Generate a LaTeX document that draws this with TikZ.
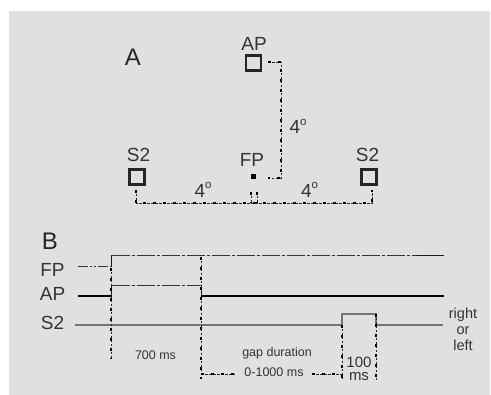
\documentclass[tikz,border=0pt]{standalone}
\usepackage{fontspec}
\setmainfont{Liberation Sans}
\begin{document}
\begin{tikzpicture}[x=1pt,y=-1pt,
  txt/.style={text=black!80, inner sep=0pt, font=\fontsize{19}{20}\selectfont},
  big/.style={text=black!85, inner sep=0pt, font=\fontsize{24}{26}\selectfont},
  small/.style={text=black!80, inner sep=0pt, font=\fontsize{12.5}{13}\selectfont},
  mid/.style={text=black!80, inner sep=0pt, font=\fontsize{15}{14}\selectfont},
  sq/.style={draw=black!85, line width=2.2pt, minimum size=15pt, inner sep=0pt},
  fixdot/.style={fill=black, minimum size=5pt, inner sep=0pt},
  dotconn/.style={draw=black!85, line width=0.6pt, dash pattern=on 2.5pt off 1.5pt,
     postaction={draw=black, line width=2.7pt, dash pattern=on 2.7pt off 7.3pt}},
  trace/.style={draw=black!90, line width=0.6pt},
  dashtrace/.style={draw=black!80, line width=0.6pt, dash pattern=on 18pt off 2pt on 3pt off 2pt},
  pretrace/.style={draw=black!80, line width=0.6pt, dash pattern=on 10pt off 2pt on 2pt off 2pt on 2pt off 2pt},
  aptrace/.style={draw=black, line width=1.3pt},
  s2trace/.style={draw=black!55, line width=1.2pt}
]
\useasboundingbox (0,0) rectangle (491,395);
\fill[black!12] (9,11) rectangle (490,395);

% ---------- Panel A ----------
\node[big] (labA) at (133,57) {A};
\node[txt] (labAP) at (254,43.5) {AP};
\node[sq] (apbox) at (253.5,63) {};
\node[txt] (labFP) at (252,160) {FP};
\node[fixdot] (fp) at (253.5,176.5) {};
\node[txt] (labS2l) at (138.5,155) {S2};
\node[sq] (s2l) at (137,177) {};
\node[txt] (labS2r) at (367.5,155) {S2};
\node[sq] (s2r) at (369,177) {};

\coordinate (ap1) at (268,62);
\coordinate (apc1) at (281,62);
\coordinate (apc2) at (281,178);
\coordinate (ap2) at (268,178);
\draw[dotconn] (ap1) -- (apc1) -- (apc2) -- (ap2);
\node[txt] (degv) at (298,126.5) {4\raisebox{0.45em}{\fontsize{11.5}{11}\selectfont o}};

\coordinate (bl0) at (136,190);
\coordinate (bl1) at (136,203);
\coordinate (br1) at (372,203);
\coordinate (br0) at (372,190);
\draw[dotconn] (bl0) -- (bl1) -- (br1) -- (br0);
\coordinate (m1t) at (251,192);
\coordinate (m1b) at (251,203);
\coordinate (m2t) at (257,192);
\coordinate (m2b) at (257,203);
\draw[dotconn] (m1t) -- (m1b);
\draw[dotconn] (m2t) -- (m2b);
\node[txt] (degl) at (203,190) {4\raisebox{0.45em}{\fontsize{11.5}{11}\selectfont o}};
\node[txt] (degr) at (309.5,190) {4\raisebox{0.45em}{\fontsize{11.5}{11}\selectfont o}};

% ---------- Panel B ----------
\node[big] (labB) at (50,241) {B};
\node[txt] (tFP) at (52.5,269.5) {FP};
\node[txt] (tAP) at (52.5,294) {AP};
\node[txt] (tS2) at (52.5,322.5) {S2};

% FP trace
\coordinate (fp0) at (78,266);
\coordinate (fp1) at (111.5,266);
\coordinate (fp2) at (111.5,255);
\coordinate (fp3) at (417,255);
\coordinate (fp4) at (444,255);
\draw[pretrace] (fp0) -- (fp1);
\draw[trace] (fp1) -- (fp2);
\draw[dashtrace] (fp2) -- (fp3);
\draw[trace] (fp3) -- (fp4);

% AP trace
\coordinate (ap0b) at (78,296);
\coordinate (ap1b) at (111.5,296);
\coordinate (ap2b) at (111.5,285);
\coordinate (ap3b) at (201,285);
\coordinate (ap4b) at (201,296);
\coordinate (ap5b) at (444,296);
\draw[aptrace] (ap0b) -- (ap1b);
\draw[trace] (ap1b) -- (ap2b);
\draw[dashtrace] (ap2b) -- (ap3b);
\draw[trace] (ap3b) -- (ap4b);
\draw[aptrace] (ap4b) -- (ap5b);

% S2 trace
\coordinate (s0) at (75,325);
\coordinate (s1) at (342,325);
\coordinate (s2) at (342,314);
\coordinate (s3) at (376,314);
\coordinate (s4) at (376,325);
\coordinate (s5) at (443,325);
\draw[s2trace] (s0) -- (s1) -- (s2) -- (s3) -- (s4) -- (s5);

% timing markers
\coordinate (v1t) at (111,268);
\coordinate (v1b) at (111,359);
\draw[dotconn] (v1t) -- (v1b);
\coordinate (v2t) at (201,257);
\coordinate (v2b) at (201,379);
\draw[dotconn] (v2t) -- (v2b);
\coordinate (g0) at (201,374);
\coordinate (g1) at (235,374);
\draw[dotconn] (g0) -- (g1);
\coordinate (g2) at (312,374);
\coordinate (g3) at (342,374);
\draw[dotconn] (g2) -- (g3);
\coordinate (v3t) at (342,325);
\coordinate (v3b) at (342,380);
\draw[dotconn] (v3t) -- (v3b);
\coordinate (v4t) at (376,314);
\coordinate (v4b) at (376,380);
\draw[dotconn] (v4t) -- (v4b);

\node[small] (t700) at (155.5,355) {700 ms};
\node[small] (tgap) at (277,353) {gap duration};
\node[small] (trange) at (274,372) {0-1000 ms};
\node[mid] (t100) at (359,362) {100};
\node[mid] (tms) at (359,377) {ms};
\node[mid, align=center, font=\fontsize{14.5}{16}\selectfont] (trl) at (463,329) {right\\or\\left};
\end{tikzpicture}
\end{document}
